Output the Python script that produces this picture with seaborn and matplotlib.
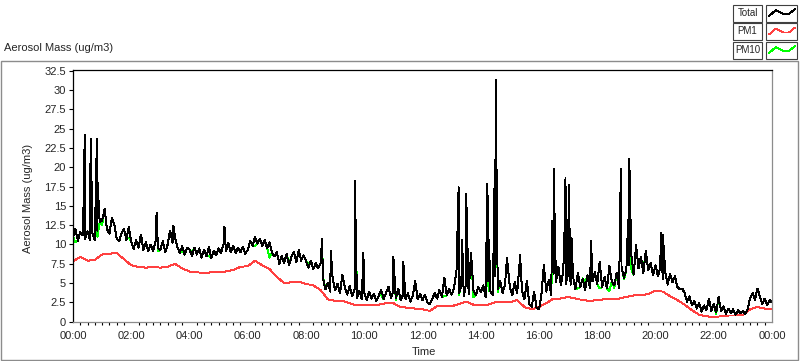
import matplotlib
matplotlib.use("Agg")
import matplotlib.pyplot as plt
import numpy as np
import pandas as pd
import seaborn as sns
from matplotlib.lines import Line2D
from matplotlib.patches import Rectangle
from matplotlib.ticker import FuncFormatter, MultipleLocator

# Total aerosol mass, one row per hour, samples every 5 minutes (ug/m3)
total_5min = [
    [11.0, 12.0, 10.5, 11.6, 11.2, 10.7, 11.7, 10.6, 11.4, 10.6, 11.8, 12.9],
    [13.1, 14.6, 12.0, 11.4, 13.4, 12.6, 10.8, 10.4, 11.5, 12.0, 10.6, 12.3],
    [10.3, 9.4, 10.6, 9.6, 11.3, 9.3, 10.3, 9.1, 10.0, 9.1, 10.4, 9.5],
    [9.3, 10.4, 9.0, 10.0, 11.8, 10.2, 11.0, 9.7, 8.9, 9.8, 8.7, 9.6],
    [9.4, 8.5, 9.6, 8.7, 9.5, 8.3, 9.3, 8.5, 9.7, 8.2, 9.2, 8.6],
    [9.5, 8.9, 10.0, 9.1, 10.2, 9.0, 9.8, 8.9, 9.6, 9.0, 9.7, 8.8],
    [9.3, 10.5, 9.8, 11.0, 10.1, 10.7, 9.8, 10.6, 9.5, 10.3, 8.9, 8.5],
    [9.0, 7.5, 8.5, 7.6, 8.8, 7.3, 8.4, 9.0, 7.7, 9.3, 7.9, 8.6],
    [7.9, 7.0, 7.9, 6.8, 7.6, 6.9, 7.5, 5.6, 4.2, 5.0, 3.9, 5.5],
    [4.1, 4.9, 3.7, 6.1, 4.4, 3.5, 4.6, 3.3, 4.2, 3.1, 4.0, 2.9],
    [3.7, 2.8, 3.9, 3.0, 3.6, 2.7, 3.4, 4.1, 2.9, 3.8, 4.5, 3.1],
    [4.0, 3.0, 4.3, 2.8, 3.5, 2.9, 3.7, 2.6, 3.4, 5.3, 2.9, 3.6],
    [2.8, 3.5, 2.5, 2.3, 2.9, 3.7, 3.0, 4.1, 3.2, 5.7, 3.4, 4.2],
    [3.5, 4.4, 6.6, 3.7, 4.7, 3.3, 5.0, 3.6, 8.9, 4.1, 3.4, 4.5],
    [3.8, 4.7, 3.2, 5.2, 3.9, 3.5, 5.9, 4.2, 5.3, 3.7, 4.8, 7.6],
    [4.5, 3.4, 5.1, 3.7, 7.6, 4.0, 2.9, 5.3, 2.3, 1.9, 3.9, 1.8],
    [1.6, 3.5, 7.3, 3.9, 5.4, 3.5, 6.2, 5.1, 7.1, 4.7, 6.6, 4.9],
    [6.1, 4.8, 5.9, 4.2, 6.3, 4.5, 5.6, 4.1, 6.0, 4.4, 5.2, 6.4],
    [4.9, 7.7, 4.5, 5.8, 4.3, 7.2, 5.2, 4.7, 6.3, 4.4, 7.1, 5.7],
    [6.7, 7.3, 8.7, 6.1, 9.9, 6.9, 8.4, 6.3, 9.2, 6.7, 7.6, 6.0],
    [7.3, 5.9, 7.0, 5.5, 6.5, 4.8, 6.2, 5.1, 5.9, 4.5, 4.2, 4.3],
    [3.7, 2.6, 3.3, 2.1, 2.7, 1.7, 2.4, 1.3, 2.1, 1.5, 3.0, 1.4],
    [2.3, 1.2, 3.2, 1.4, 2.0, 1.0, 1.7, 1.1, 1.6, 0.9, 1.5, 1.1],
    [1.4, 1.0, 1.7, 3.1, 3.7, 2.8, 4.3, 3.3, 2.3, 3.0, 2.1, 2.8],
    [2.5],
]

# short peaks in the total signal
spike_hours = [0.38, 0.40, 0.59, 0.61, 0.82, 0.84, 2.87, 3.45, 5.20, 8.55,
               8.85, 9.68, 9.71, 9.97, 11.00, 11.34, 13.24, 13.36, 13.50,
               14.23, 14.28, 14.47, 14.51, 14.90, 15.35, 16.46, 16.50, 16.88,
               16.91, 17.02, 17.12, 17.79, 18.81, 19.06, 19.10, 20.18, 20.25]
spike_values = [17.5, 24.2, 17.0, 23.7, 23.7, 18.1, 14.1, 12.4, 12.3, 10.7,
                9.2, 18.2, 10.8, 8.9, 8.4, 7.8, 17.4, 10.6, 16.6,
                17.9, 10.6, 17.3, 31.3, 8.2, 8.6, 13.1, 19.8, 12.1,
                18.6, 17.7, 10.8, 10.4, 19.8, 13.2, 21.1, 11.5, 11.3]

# PM1, one row per hour, samples every 15 minutes
pm1_15min = [
    [7.8, 8.4, 7.9, 8.0], [8.7, 8.8, 8.9, 8.1], [7.3, 7.1, 7.0, 7.1],
    [7.0, 7.1, 7.5, 6.9], [6.5, 6.4, 6.3, 6.4], [6.4, 6.5, 6.7, 7.1],
    [7.2, 7.9, 7.3, 6.8], [5.8, 5.0, 5.1, 5.2], [4.9, 4.7, 4.1, 2.9],
    [2.7, 2.7, 2.4, 2.1], [2.1, 2.1, 2.2, 2.4], [2.4, 1.9, 1.8, 1.7],
    [1.6, 1.4, 2.0, 2.0], [2.0, 2.3, 2.6, 2.2], [2.1, 2.2, 2.5, 2.5],
    [2.5, 2.8, 1.9, 1.6], [1.9, 2.4, 3.0, 3.0], [3.2, 3.0, 2.8, 2.7],
    [2.8, 2.9, 3.0, 3.0], [3.2, 3.4, 3.4, 3.6], [4.0, 3.9, 3.3, 2.8],
    [2.2, 1.5, 0.9, 0.7], [0.6, 0.7, 0.8, 0.8], [0.9, 1.6, 1.9, 1.7],
    [1.7],
]

# PM10 follows the total except at these moments
pm10_hours = [0.12, 0.85, 1.02, 1.90, 2.90, 3.40, 3.75, 4.05, 4.70, 5.10,
              6.25, 6.78, 7.45, 8.05, 8.62, 9.75, 10.55, 11.10, 12.78, 13.25,
              13.75, 14.30, 14.55, 16.45, 16.95, 17.30, 17.55, 18.10, 18.45,
              18.60, 18.95, 19.20, 19.40, 19.60, 22.10, 22.45]
pm10_values = [10.3, 11.0, 12.5, 10.9, 9.1, 10.3, 9.2, 8.8, 8.5, 9.0,
               9.8, 8.3, 7.6, 7.4, 5.8, 3.7, 3.4, 2.8, 3.3, 3.4,
               3.2, 4.0, 3.8, 8.4, 5.0, 4.3, 5.1, 4.3, 4.0,
               4.4, 5.5, 6.8, 7.0, 6.5, 1.0, 1.1]

LABEL_FONT = ["Liberation Sans", "DejaVu Sans"]


def build_frames():
    tot = np.concatenate(total_5min)
    t = np.arange(len(tot)) / 12
    t = np.concatenate([t, spike_hours])
    v = np.concatenate([tot, spike_values])
    order = np.argsort(t, kind="stable")
    df = pd.DataFrame({"hour": t[order], "total": v[order]})
    df["pm10"] = df["total"]
    for h, val in zip(pm10_hours, pm10_values):
        i = (df["hour"] - h).abs().idxmin()
        df.loc[i, "pm10"] = val

    p1 = np.concatenate(pm1_15min)
    pm1 = pd.DataFrame({"hour": np.arange(len(p1)) / 4, "pm1": p1})
    return df, pm1


def hhmm(x, pos):
    h = int(round(x)) % 24
    return f"{h:02d}:00"


sns.set_style("white")
plt.rcParams["font.family"] = LABEL_FONT
plt.rcParams["font.size"] = 8

df, pm1 = build_frames()

fig = plt.figure(figsize=(8, 3.61), dpi=100)
ax = fig.add_axes([73 / 800, 1 - 322 / 361, 699 / 800, 252 / 361])

# 0.7pt ~ one pixel, drawn without smoothing like the original
line_kw = dict(lw=0.7, estimator=None, sort=False, antialiased=False, ax=ax)
sns.lineplot(data=df, x="hour", y="pm10", color="#00ff00", **line_kw)
sns.lineplot(data=pm1, x="hour", y="pm1", color="#ff4040", **line_kw)
sns.lineplot(data=df, x="hour", y="total", color="black", **line_kw)

ax.set_xlim(0, 24)
ax.set_ylim(-0.04, 32.6)
ax.xaxis.set_major_locator(MultipleLocator(2))
ax.xaxis.set_minor_locator(MultipleLocator(0.25))
ax.xaxis.set_major_formatter(FuncFormatter(hhmm))
ax.yaxis.set_major_locator(MultipleLocator(2.5))
ax.yaxis.set_major_formatter(FuncFormatter(lambda v, p: f"{v:g}"))

ax.tick_params(axis="x", which="major", direction="out", length=4.3,
               width=0.8, color="black", pad=2, labelsize=8)
ax.tick_params(axis="x", which="minor", direction="out", length=2.3,
               width=0.8, color="black", bottom=True)
ax.tick_params(axis="y", which="major", direction="out", length=3,
               width=0.8, color="black", pad=2, labelsize=8, left=True)

for side, col in [("left", "black"), ("top", "black"),
                  ("right", "#8c8c8c"), ("bottom", "#8c8c8c")]:
    ax.spines[side].set_visible(True)
    ax.spines[side].set_color(col)
    ax.spines[side].set_linewidth(0.9)

ax.set_xlabel("")
ax.set_ylabel("Aerosol Mass (ug/m3)", fontsize=8)
ax.yaxis.set_label_coords(-0.057, 0.49)

fig.text(424 / 800, 1 - 352 / 361, "Time", ha="center", va="center", fontsize=8)
fig.text(4 / 800, 1 - 48 / 361, "Aerosol Mass (ug/m3)", ha="left",
         va="center", fontsize=8)

# outer panel frame
fig.add_artist(Rectangle((1 / 800, 1 / 361), 797 / 800, 299 / 361,
                         transform=fig.transFigure, fill=False,
                         edgecolor="#8c8c8c", lw=1))

# legend boxes, LabVIEW style
names = ["Total", "PM1", "PM10"]
cols = ["black", "#ff4040", "#00ff00"]
for k, (name, col) in enumerate(zip(names, cols)):
    yc = 13 + 18.5 * k
    y0 = 1 - (yc + 8.5) / 361
    hh = 17 / 361
    fig.add_artist(Rectangle((733 / 800, y0), 29 / 800, hh,
                             transform=fig.transFigure, facecolor="white",
                             edgecolor="#404040", lw=0.8))
    fig.add_artist(Rectangle((766 / 800, y0), 31 / 800, hh,
                             transform=fig.transFigure, facecolor="white",
                             edgecolor="#404040", lw=0.8))
    fig.text(747.5 / 800, 1 - yc / 361, name, ha="center", va="center",
             fontsize=7)
    xs = np.array([769, 776, 783, 789, 795]) / 800
    ys = 1 - (yc + np.array([3, -3, 1, 1, -4])) / 361
    fig.add_artist(Line2D(xs, ys, transform=fig.transFigure, color=col,
                          lw=0.7, antialiased=False))

fig.savefig("out.png", dpi=100)
